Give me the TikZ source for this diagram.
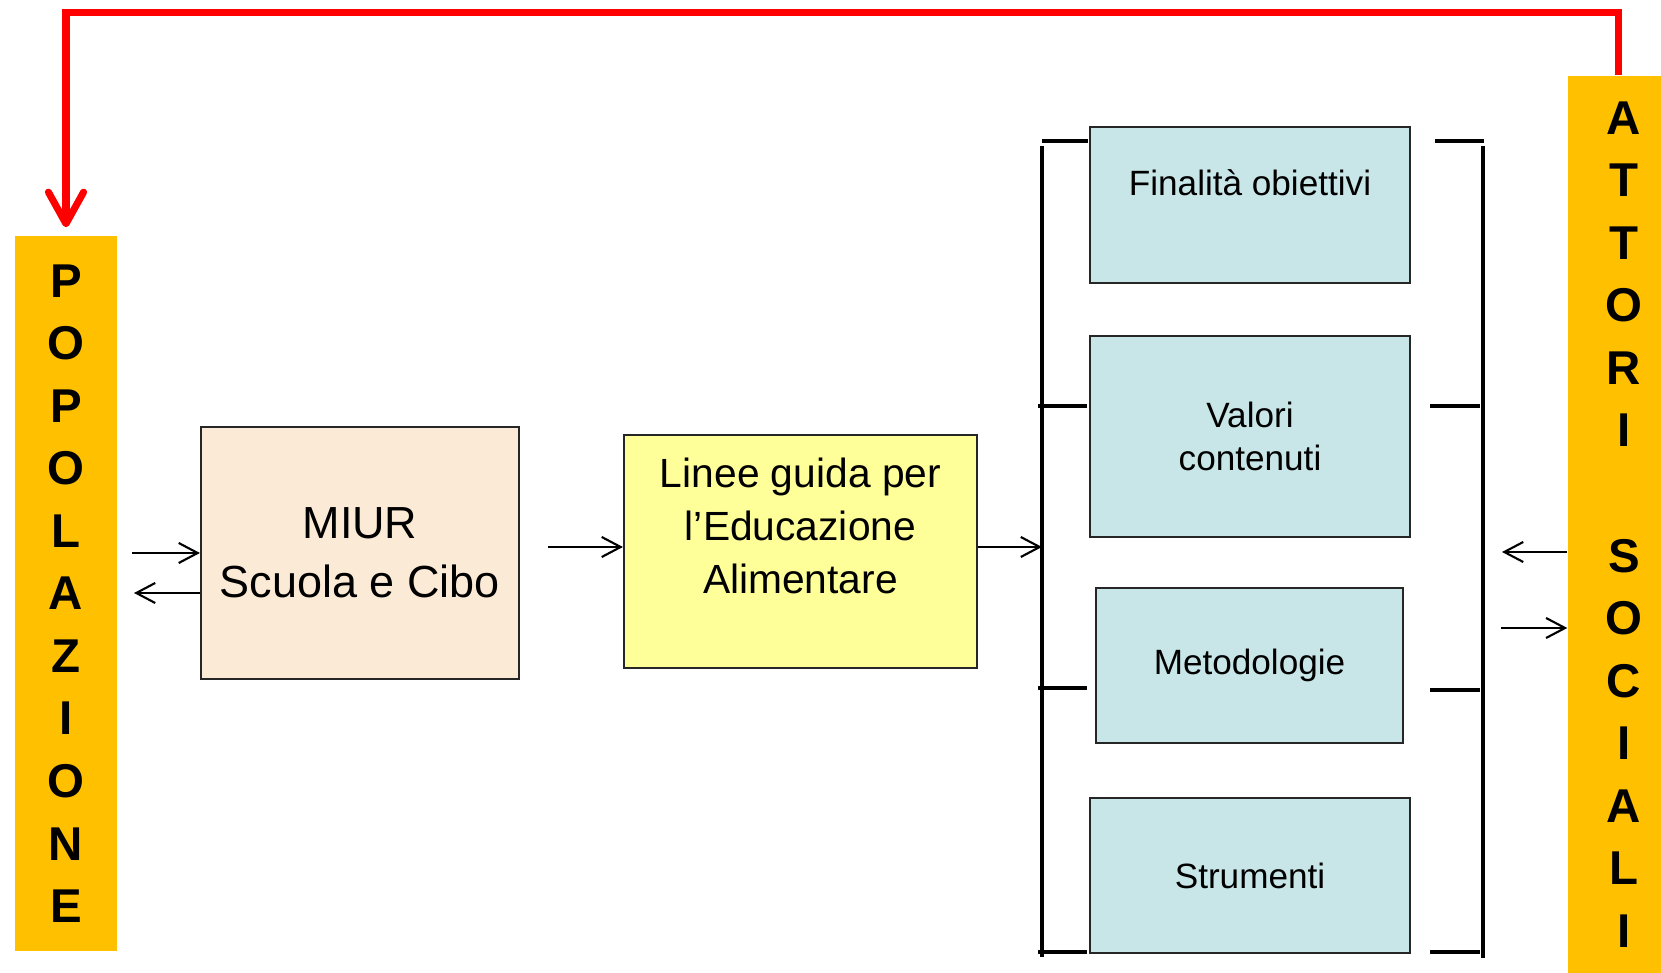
\documentclass[tikz,border=0pt]{standalone}
\usepackage{fontspec}
\setmainfont{Liberation Sans}
\usetikzlibrary{arrows.meta,positioning}
\definecolor{arancio}{RGB}{255,192,0}
\definecolor{pesca}{RGB}{251,234,214}
\definecolor{giallino}{RGB}{255,255,153}
\definecolor{azzurrino}{RGB}{200,230,232}
\tikzset{
  box/.style={rectangle, draw=black!85, line width=0.6pt, inner sep=0pt, align=center},
  smallbox/.style={box, fill=azzurrino, font=\fontsize{10}{12.2}\selectfont},
  bar/.style={rectangle, fill=arancio, inner sep=0pt, align=center, font=\bfseries\fontsize{13.5}{17.8}\selectfont},
  arr/.style={line width=0.6pt, -{Straight Barb[length=5.4pt,width=5.7pt]}},
  brk/.style={line width=1pt},
  ritorno/.style={red, line width=2pt, -{Straight Barb[length=9pt,width=10pt,round]}}
}

\begin{document}
\begin{tikzpicture}[x=0.1mm, y=-0.1mm]
\useasboundingbox (0,0) rectangle (1661,973);

\node[bar, minimum width=10.2mm, minimum height=71.5mm] (pop) at (66,593.5) {P\\O\\P\\O\\L\\A\\Z\\I\\O\\N\\E};
\node[bar, minimum width=11.2mm, minimum height=89.7mm] (att) at (1624,524.5) {A\\T\\T\\O\\R\\I\\[17.8pt]S\\O\\C\\I\\A\\L\\I};
\draw[ritorno] ([xshift=-0.6mm]att.north) -- ++(0,-63) -| ([yshift=0.8mm]pop.north);

\node[box, fill=pesca, minimum width=31.8mm, minimum height=25.2mm, font=\fontsize{12.8}{16.8}\selectfont] (miur) at (360,553) {MIUR\\Scuola e Cibo};
\node[box, fill=giallino, minimum width=35.3mm, minimum height=23.3mm] (lin) at (800.5,551.5) {};
\node[align=center, font=\fontsize{11.6}{15.2}\selectfont] (lint) at (800.5,526) {Linee guida per\\l’Educazione\\Alimentare};

\node[smallbox, minimum width=32mm, minimum height=15.6mm] (fin) at (1250,205) {};
\node[font=\fontsize{10}{12.2}\selectfont] (fint) at (1250,183) {Finalità obiettivi};
\node[smallbox, minimum width=32mm, minimum height=20.1mm] (val) at (1250,436.5) {Valori\\contenuti};
\node[smallbox, minimum width=30.7mm, minimum height=15.5mm] (met) at (1249.5,665.5) {Metodologie};
\node[smallbox, minimum width=32mm, minimum height=15.5mm] (str) at (1250,875.5) {Strumenti};

\draw[brk] (1042,146) -- (1042,957);
\draw[brk] (1042,141) -- (1088,141);
\foreach \y in {406,688,952} \draw[brk] (1038,\y) -- (1087,\y);
\draw[brk] (1483,146) -- (1483,958);
\draw[brk] (1435,141) -- (1484,141);
\foreach \y in {406,690,952} \draw[brk] (1430,\y) -- (1480,\y);

\coordinate (pin) at (132,553);
\coordinate (pout) at (134,593);
\coordinate (m1) at (548,547);
\coordinate (bl) at (1042,547);
\coordinate (a1) at (1502,552);
\coordinate (a2) at (1501,628);
\draw[arr] (pin) -- (pin -| miur.west);
\draw[arr] (pout -| miur.west) -- (pout);
\draw[arr] (m1) -- (m1 -| lin.west);
\draw[arr] (lin.east |- bl) -- (bl);
\draw[arr] (a1 -| att.west) -- (a1);
\draw[arr] (a2) -- (a2 -| att.west);
\end{tikzpicture}
\end{document}
